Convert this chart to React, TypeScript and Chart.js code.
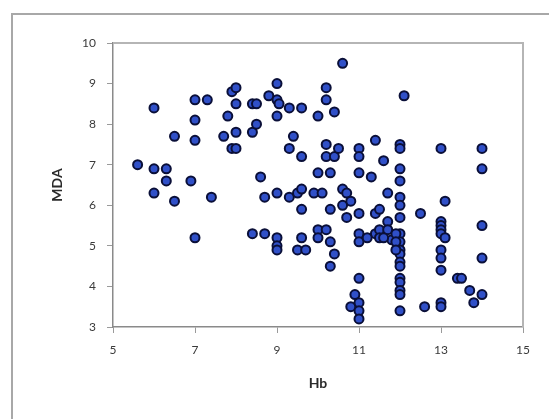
import React, { useEffect, useRef } from "react";
import { Chart, registerables } from "chart.js";

Chart.register(...registerables);

// Hb (x) and MDA (y) pairs
const hbValues: number[] = [
  5.6, 6.0, 6.0, 6.0, 6.3, 6.3, 6.5, 6.5, 6.9, 7.0, 7.0, 7.0, 7.0, 7.3, 7.4,
  7.7, 7.8, 7.9, 8.0, 8.0, 8.0, 7.9, 8.0, 8.4, 8.5, 8.4, 8.5, 8.6, 8.7, 8.4, 8.7, 8.8,
  9.0, 9.0, 9.05, 9.0, 9.3, 9.0, 9.3, 9.0, 9.0, 9.0, 9.4, 9.3, 9.6, 9.6, 9.5, 9.6, 9.6, 9.6, 9.5, 9.7,
  9.9, 10.0, 10.0, 10.0, 10.0, 10.1, 10.2, 10.2, 10.2, 10.2, 10.2, 10.3, 10.3, 10.3, 10.3, 10.4, 10.4, 10.4, 10.5, 10.6, 10.6, 10.6, 10.7, 10.7, 10.8, 10.8, 10.9,
  11.0, 11.0, 11.0, 11.0, 11.0, 11.0, 11.0, 11.0, 11.0, 11.0, 11.3, 11.4, 11.4, 11.5, 11.4, 11.5, 11.5, 11.2, 11.6, 11.7, 11.7, 11.7, 11.8, 11.6,
  12.0, 12.0, 12.0, 12.0, 12.0, 12.0, 12.0, 12.0, 12.0, 12.0, 12.0, 12.0, 12.0, 12.0, 12.0, 12.0, 12.0, 12.0, 11.9, 11.9, 11.9, 12.1, 12.5, 12.6,
  13.0, 13.1, 13.0, 13.0, 13.0, 13.0, 13.1, 13.0, 13.0, 13.0, 13.0, 13.0, 13.4, 13.5, 13.7, 13.8, 14.0, 14.0, 14.0, 14.0, 14.0,
];

const mdaValues: number[] = [
  7.0, 8.4, 6.9, 6.3, 6.9, 6.6, 7.7, 6.1, 6.6, 8.6, 8.1, 7.6, 5.2, 8.6, 6.2,
  7.7, 8.2, 8.8, 8.9, 8.5, 7.8, 7.4, 7.4, 7.8, 8.0, 8.5, 8.5, 6.7, 6.2, 5.3, 5.3, 8.7,
  9.0, 8.6, 8.5, 8.2, 8.4, 6.3, 6.2, 5.2, 5.0, 4.9, 7.7, 7.4, 8.4, 7.2, 6.3, 6.4, 5.9, 5.2, 4.9, 4.9,
  6.3, 8.2, 6.8, 5.4, 5.2, 6.3, 8.9, 8.6, 7.5, 7.2, 5.4, 6.8, 5.9, 5.1, 4.5, 8.3, 7.2, 4.8, 7.4, 9.5, 6.4, 6.0, 5.7, 6.3, 6.1, 3.5, 3.8,
  7.4, 7.2, 6.8, 5.8, 5.3, 5.1, 4.2, 3.6, 3.4, 3.2, 6.7, 7.6, 5.8, 5.9, 5.3, 5.4, 5.2, 5.2, 7.1, 6.3, 5.6, 5.4, 5.15, 5.2,
  7.5, 7.4, 6.9, 6.6, 6.2, 6.0, 5.7, 5.3, 5.1, 4.9, 4.8, 4.6, 4.5, 4.2, 4.1, 3.9, 3.8, 3.4, 5.3, 5.1, 4.9, 8.7, 5.8, 3.5,
  7.4, 6.1, 5.6, 5.5, 5.4, 5.3, 5.2, 4.9, 4.7, 4.4, 3.6, 3.5, 4.2, 4.2, 3.9, 3.6, 7.4, 6.9, 5.5, 4.7, 3.8,
];

const xTitle = "Hb";
const yTitle = "MDA";
const xMin = 5, xMax = 15, xStep = 2;
const yMin = 3, yMax = 10, yStep = 1;

const plotBox = {
  id: "plotBox",
  afterDraw(chart: any) {
    const { ctx, chartArea } = chart;
    ctx.save();
    ctx.strokeStyle = "#b5b5b5";
    ctx.lineWidth = 2;
    ctx.beginPath();
    ctx.moveTo(chartArea.left, chartArea.top);
    ctx.lineTo(chartArea.right, chartArea.top);
    ctx.lineTo(chartArea.right, chartArea.bottom);
    ctx.stroke();
    ctx.restore();
  },
};

export default function App() {
  const ref = useRef<HTMLCanvasElement | null>(null);

  useEffect(() => {
    if (!ref.current) return;
    const points = hbValues.map((x, i) => ({ x, y: mdaValues[i] }));
    const tickFont = { family: "Lato, 'Open Sans', sans-serif", size: 12 };
    const titleFont = { family: "Lato, 'Open Sans', sans-serif", size: 14, weight: "bold" as const };
    const chart = new Chart(ref.current, {
      type: "scatter",
      data: {
        datasets: [
          {
            data: points,
            backgroundColor: "#3050c8",
            borderColor: "#0a0f38",
            borderWidth: 2,
            pointRadius: 4.5,
            pointHoverRadius: 4.5,
          },
        ],
      },
      options: {
        responsive: false,
        animation: false,
        layout: { padding: { left: 0, top: 43, right: 26, bottom: 0 } },
        plugins: { legend: { display: false }, tooltip: { enabled: false } },
        scales: {
          x: {
            type: "linear",
            min: xMin,
            max: xMax,
            afterFit: (s: any) => { s.height = 92; },
            ticks: { stepSize: xStep, color: "#3a3a3a", font: tickFont, padding: 10 },
            grid: { display: true, drawOnChartArea: false, drawTicks: true, tickLength: 6, color: "#9a9a9a" },
            border: { display: true, color: "#8a8a8a", width: 1.5 },
            title: { display: true, text: xTitle, color: "#2a2a2a", font: titleFont, padding: { top: 0, bottom: 27 } },
          },
          y: {
            type: "linear",
            min: yMin,
            max: yMax,
            afterFit: (s: any) => { s.width = 113; },
            ticks: { stepSize: yStep, color: "#3a3a3a", font: tickFont, padding: 11 },
            grid: { display: true, drawOnChartArea: false, drawTicks: true, tickLength: 6, color: "#9a9a9a" },
            border: { display: true, color: "#8a8a8a", width: 1.5 },
            title: { display: true, text: yTitle, color: "#2a2a2a", font: titleFont, padding: { top: 49, bottom: 0 } },
          },
        },
      },
      plugins: [plotBox],
    });
    return () => chart.destroy();
  }, []);

  return (
    <div style={{ position: "fixed", left: 0, top: 0, width: 549, height: 419, background: "#fff", overflow: "hidden" }}>
      <div
        style={{
          position: "absolute",
          left: 11,
          top: 13,
          width: 560,
          height: 440,
          borderLeft: "2.5px solid #a8a8a8",
          borderTop: "2.5px solid #a8a8a8",
        }}
      />
      <canvas ref={ref} width={549} height={419} style={{ position: "absolute", left: 0, top: 0 }} />
    </div>
  );
}
